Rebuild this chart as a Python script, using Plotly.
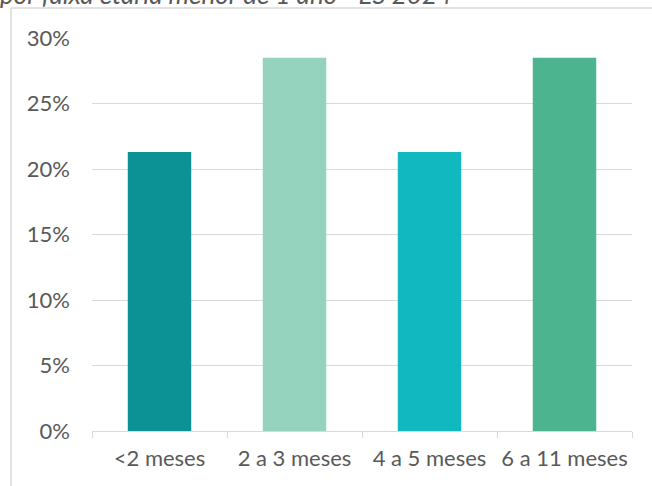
import plotly.graph_objects as go

categories = ["<2 meses", "2 a 3 meses", "4 a 5 meses", "6 a 11 meses"]
values = [21.3, 28.5, 21.3, 28.5]
colors = ["#0C9294", "#96D3BE", "#11B8BF", "#4CB48F"]
tick_vals = [0, 5, 10, 15, 20, 25, 30]
tick_text = ["0%", "5%", "10%", "15%", "20%", "25%", "30%"]
title_text = "por faixa etária menor de 1 ano - ES 2024"

W, H = 652, 486
L, R, T, B = 92, 20, 38, 55
pw, ph = W - L - R, H - T - B

def px_x(x):
    return (x - L) / pw

def px_y(y):
    return (H - B - y) / ph

fig = go.Figure()
fig.add_trace(go.Bar(
    x=categories, y=values, marker=dict(color=colors, line=dict(width=0)),
    width=0.47, hoverinfo="skip",
))

font = dict(family="Lato", size=22, color="#595959")
grid = "#D9D9D9"

fig.update_layout(
    width=W, height=H,
    margin=dict(l=L, r=R, t=T, b=B, autoexpand=False),
    paper_bgcolor="white", plot_bgcolor="white",
    showlegend=False, font=font,
    xaxis=dict(
        showline=True, linecolor=grid, linewidth=1,
        ticks="outside", tickson="boundaries", ticklen=6, tickcolor=grid,
        showgrid=False, tickfont=font, ticklabelstandoff=8,
        tickangle=0, automargin=False,
    ),
    yaxis=dict(
        range=[0, 30], tickvals=tick_vals, ticktext=tick_text,
        showgrid=True, gridcolor=grid, gridwidth=1, zeroline=False,
        showline=False, ticks="", tickfont=font, ticklabelstandoff=21,
        automargin=False,
    ),
    annotations=[dict(
        text=title_text, xref="paper", yref="paper",
        x=px_x(-2), y=px_y(12), xanchor="left", yanchor="bottom",
        showarrow=False, font=dict(family="Lato", size=26, color="#595959", style="italic"),
    )],
    shapes=[
        dict(type="line", xref="paper", yref="paper", x0=px_x(11), x1=px_x(11),
             y0=px_y(8), y1=px_y(490), line=dict(color=grid, width=1.5)),
        dict(type="line", xref="paper", yref="paper", x0=px_x(11), x1=px_x(660),
             y0=px_y(8), y1=px_y(8), line=dict(color=grid, width=1.5)),
    ],
)

fig.write_html("out.html", config={"displayModeBar": False},
               post_script="document.body.style.margin='0';")
